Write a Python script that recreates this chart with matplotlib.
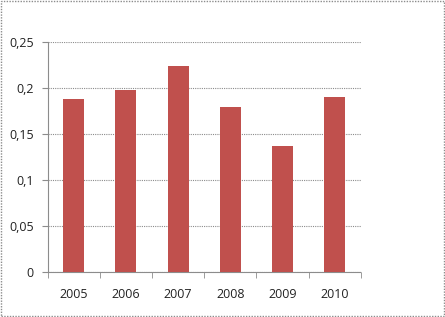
import matplotlib
matplotlib.use("Agg")
import matplotlib.pyplot as plt
from matplotlib.patches import Rectangle

years = ["2005", "2006", "2007", "2008", "2009", "2010"]
values = [0.187, 0.197, 0.223, 0.179, 0.136, 0.190]
yticks = [0, 0.05, 0.1, 0.15, 0.2, 0.25]
ytick_labels = ["0", "0,05", "0,1", "0,15", "0,2", "0,25"]

plt.rcParams['font.family'] = ['Open Sans', 'DejaVu Sans']

fig = plt.figure(figsize=(4.45, 3.17), dpi=100)
ax = fig.add_axes([0.107, 0.1435, 0.704, 0.7255])

x = list(range(len(years)))
ax.bar(x, values, width=0.4, color='#C0504D', edgecolor='none', zorder=3)
ax.set_xlim(-0.5, len(years) - 0.5)
ax.set_ylim(0, 0.25)
ax.set_yticks(yticks)
ax.set_yticklabels(ytick_labels)
ax.set_xticks(x)
ax.set_xticklabels(years)
ax.set_xticks([i - 0.5 for i in range(len(years) + 1)], minor=True)

ax.grid(axis='y', color='#8c8c8c', linestyle=(0, (1, 1)), linewidth=0.8, zorder=0)
for s in ['top', 'right']:
    ax.spines[s].set_visible(False)
for s in ['left', 'bottom']:
    ax.spines[s].set_color('#8c8c8c')
    ax.spines[s].set_linestyle((0, (1, 1)))
    ax.spines[s].set_linewidth(0.8)

ax.tick_params(axis='y', length=4, color='#8c8c8c', labelsize=9, labelcolor='#222222', pad=6)
ax.tick_params(axis='x', which='major', length=0, labelsize=9, labelcolor='#222222', pad=12)
ax.tick_params(axis='x', which='minor', length=4, color='#8c8c8c')

fig.patches.append(Rectangle((0.002, 0.003), 0.996, 0.994, transform=fig.transFigure,
                             fill=False, edgecolor='#8c8c8c', linestyle=(0, (1, 1)), linewidth=1.0))

fig.savefig("out.png", dpi=100)
